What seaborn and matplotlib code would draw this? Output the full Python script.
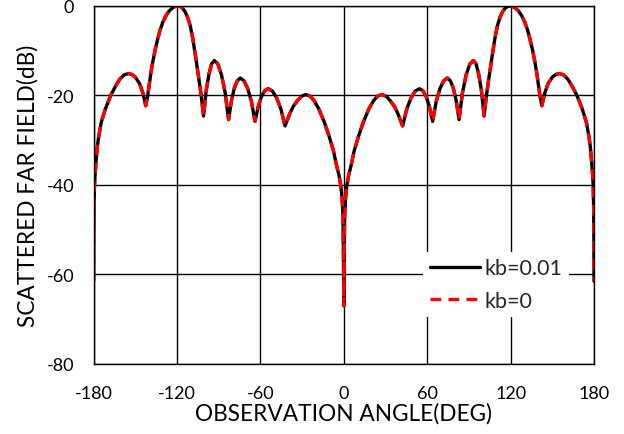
import matplotlib
matplotlib.use("Agg")
import matplotlib.pyplot as plt
import pandas as pd
import seaborn as sns

# ---- data ----
series_names = ["kb=0.01", "kb=0"]
x_ticks = [-180, -120, -60, 0, 60, 120, 180]
y_ticks = [-80, -60, -40, -20, 0]

angle_neg = [-180.0, -179.9, -179.7, -179.4, -178.9, -178.3, -177.4, -176.5, -174.5, -171.5,
             -167.7, -164.0, -161.0, -158.0, -155.0, -152.5, -150.0, -147.0, -144.5, -142.5,
             -141.2, -139.8, -138.8, -137.5, -135.8, -133.9, -132.2, -130.3, -128.0, -125.5,
             -122.5, -120.0, -118.0, -116.0, -114.0, -112.3, -110.5, -108.7, -106.4, -104.4,
             -102.6, -100.9, -99.0, -97.0, -95.1, -93.1, -90.6, -88.0, -85.4, -82.9,
             -80.8, -78.7, -76.6, -74.5, -71.9, -69.2, -66.5, -63.9, -61.5, -59.2,
             -56.8, -54.4, -51.4, -48.4, -45.3, -42.3, -40.7, -38.8, -36.5, -33.5,
             -30.5, -27.5, -24.5, -21.5, -18.0, -14.0, -10.7, -7.5, -5.2, -3.5,
             -2.1, -1.2, -0.6, -0.3]
db_neg = [-61.5, -52.0, -45.0, -40.5, -37.5, -35.0, -31.7, -29.5, -26.0, -23.0,
          -20.0, -17.8, -16.3, -15.4, -15.1, -15.3, -15.9, -17.3, -19.5, -22.3,
          -20.3, -17.2, -15.0, -12.6, -9.9, -7.4, -5.4, -3.7, -2.2, -1.05,
          -0.25, 0.0, -0.1, -0.5, -1.4, -2.6, -4.4, -7.2, -11.8, -16.0,
          -20.0, -24.6, -18.9, -15.2, -12.9, -12.2, -13.0, -15.4, -19.3, -25.4,
          -21.1, -18.3, -16.7, -16.1, -16.7, -18.4, -21.3, -25.8, -22.4, -20.2,
          -18.9, -18.5, -19.0, -20.5, -23.0, -26.8, -25.5, -24.0, -22.5, -21.2,
          -20.2, -19.8, -20.1, -21.1, -23.0, -26.0, -29.0, -32.3, -35.7, -37.8,
          -40.3, -43.2, -47.0, -55.0]

angle_mid = [0.0]
db_mid = [-67.0]

angle_pos = [0.3, 0.6, 1.2, 2.1, 3.5, 5.2, 7.5, 10.7, 14.0, 18.0,
             21.5, 24.5, 27.5, 30.5, 33.5, 36.5, 38.8, 40.7, 42.3, 45.3,
             48.4, 51.4, 54.4, 56.8, 59.2, 61.5, 63.9, 66.5, 69.2, 71.9,
             74.5, 76.6, 78.7, 80.8, 82.9, 85.4, 88.0, 90.6, 93.1, 95.1,
             97.0, 99.0, 100.9, 102.6, 104.4, 106.4, 108.7, 110.5, 112.3, 114.0,
             116.0, 118.0, 120.0, 122.5, 125.5, 128.0, 130.3, 132.2, 133.9, 135.8,
             137.5, 138.8, 139.8, 141.2, 142.5, 144.5, 147.0, 150.0, 152.5, 155.0,
             158.0, 161.0, 164.0, 167.7, 171.5, 174.5, 176.5, 177.4, 178.3, 178.9,
             179.4, 179.7, 179.9, 180.0]
db_pos = [-55.0, -47.0, -43.2, -40.3, -37.8, -35.7, -32.3, -29.0, -26.0, -23.0,
          -21.1, -20.1, -19.8, -20.2, -21.2, -22.5, -24.0, -25.5, -26.8, -23.0,
          -20.5, -19.0, -18.5, -18.9, -20.2, -22.4, -25.8, -21.3, -18.4, -16.7,
          -16.1, -16.7, -18.3, -21.1, -25.4, -19.3, -15.4, -13.0, -12.2, -12.9,
          -15.2, -18.9, -24.6, -20.0, -16.0, -11.8, -7.2, -4.4, -2.6, -1.4,
          -0.5, -0.1, 0.0, -0.25, -1.05, -2.2, -3.7, -5.4, -7.4, -9.9,
          -12.6, -15.0, -17.2, -20.3, -22.3, -19.5, -17.3, -15.9, -15.3, -15.1,
          -15.4, -16.3, -17.8, -20.0, -23.0, -26.0, -29.5, -31.7, -35.0, -37.5,
          -40.5, -45.0, -52.0, -61.5]

angles = angle_neg + angle_mid + angle_pos
field_kb001 = db_neg + db_mid + db_pos   # kb=0.01 (black)
field_kb0 = db_neg + db_mid + db_pos     # kb=0 (red dashed), identical at this resolution

df = pd.DataFrame({"angle": angles, "kb001": field_kb001, "kb0": field_kb0})

# ---- style ----
sns.set_style("white")
plt.rcParams["font.family"] = ["Lato", "DejaVu Sans"]
plt.rcParams["axes.edgecolor"] = "black"

fig = plt.figure(figsize=(6.24, 4.35), dpi=100)
ax = fig.add_axes([0.150, 0.161, 0.802, 0.823])

sns.lineplot(data=df, x="angle", y="kb001", ax=ax, color="black", linewidth=2.4,
             label=series_names[0], sort=False, estimator=None)
sns.lineplot(data=df, x="angle", y="kb0", ax=ax, color="#ff0000", linewidth=2.4,
             linestyle=(0, (3.2, 2.2)), label=series_names[1], sort=False, estimator=None)

ax.set_xlim(-180, 180)
ax.set_ylim(-80, 0)
ax.set_xticks(x_ticks)
ax.set_yticks(y_ticks)
ax.set_xticklabels([str(t) for t in x_ticks])
ax.set_yticklabels([str(t) for t in y_ticks])
ax.grid(True, color="black", linewidth=1.0)
ax.set_axisbelow(True)
for s in ax.spines.values():
    s.set_color("black")
    s.set_linewidth(1.0)
ax.tick_params(axis="both", length=0, labelsize=13, colors="black")
ax.tick_params(axis="x", pad=15)
ax.tick_params(axis="y", pad=14)

ax.set_xlabel("OBSERVATION ANGLE(DEG)", fontsize=16.3, color="black", labelpad=1)
ax.set_ylabel("SCATTERED FAR FIELD(dB)", fontsize=16.3, color="black", labelpad=6)

leg = ax.legend(loc="lower left", bbox_to_anchor=(0.659, 0.130), fontsize=15.5,
                frameon=True, facecolor="white", edgecolor="none", framealpha=1.0,
                handlelength=2.33, handletextpad=0.23, labelspacing=0.6,
                borderpad=0.3, borderaxespad=0.0, fancybox=False)
leg.set_zorder(5)

fig.savefig("out.png", dpi=100)
